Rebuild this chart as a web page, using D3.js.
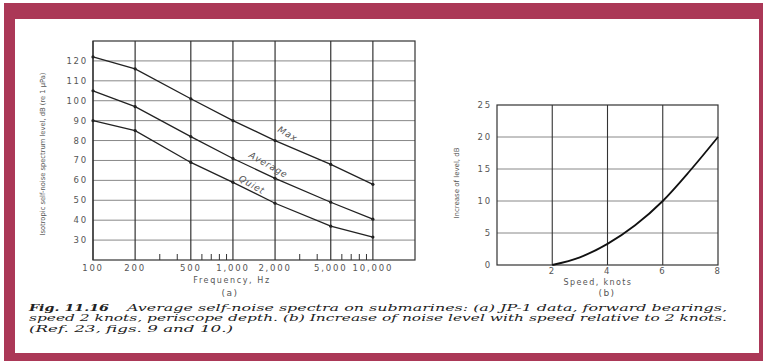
<!DOCTYPE html>
<html>
<head>
<meta charset="utf-8">
<script src="https://cdn.jsdelivr.net/npm/d3@7"></script>
<style>
  body { margin: 0; background: #fff; }
  svg text { font-family: "DejaVu Sans", sans-serif; fill: #555; }
</style>
</head>
<body>
<svg id="fig" width="763" height="361"></svg>
<script>
// panel (a): frequency spectra
const freqs = [100, 200, 500, 1000, 2000, 5000, 10000];
const freqLabels = ['100', '200', '500', '1,000', '2,000', '5,000', '10,000'];
const minorFreqs = [300, 400, 600, 700, 800, 900, 3000, 4000, 6000, 7000, 8000, 9000];
const maxLevel = [122, 116, 101, 90, 80, 68, 58];
const avgLevel = [105, 97, 82, 71, 61, 49, 40.5];
const quietLevel = [90, 85, 69, 59, 48.5, 37, 31.5];
const levelTicks = [30, 40, 50, 60, 70, 80, 90, 100, 110, 120];
const curveNames = ['Max', 'Average', 'Quiet'];
const curveNameFreq = [2400, 1750, 1330];
const curveNameLevel = [82, 66.5, 56.5];

// panel (b): increase with speed
const speeds = [2, 3, 4, 5, 6, 7, 8];
const increase = [0, 1.2, 3.3, 6.2, 10, 14.8, 20];
const speedTicks = [2, 4, 6, 8];
const incTicks = [0, 5, 10, 15, 20, 25];

const caption = [
  'Average self-noise spectra on submarines: (a) JP-1 data, forward bearings,',
  'speed 2 knots, periscope depth. (b) Increase of noise level with speed relative to 2 knots.',
  '(Ref. 23, figs. 9 and 10.)'
];

const svg = d3.select('#fig');

// maroon frame
svg.append('rect').attr('x', 4).attr('y', 3).attr('width', 759).attr('height', 358).attr('fill', '#ab3857');
svg.append('rect').attr('x', 15).attr('y', 19).attr('width', 744).attr('height', 334).attr('fill', '#fff');

const ink = '#333';
const gridCol = '#888';
const tickFont = g => g.attr('font-size', 8.5).attr('letter-spacing', 1.8);

// ---------- panel (a)
const x = d3.scaleLog().domain([100, 20000]).range([93, 415]);
const y = d3.scaleLinear().domain([20, 130]).range([260, 41]);
const ga = svg.append('g');

ga.selectAll('.hg').data(levelTicks).join('line')
  .attr('x1', x(100)).attr('x2', x(20000))
  .attr('y1', d => y(d)).attr('y2', d => y(d))
  .attr('stroke', gridCol).attr('stroke-width', 1);

ga.selectAll('.vg').data(freqs).join('line')
  .attr('x1', d => x(d)).attr('x2', d => x(d))
  .attr('y1', y(20)).attr('y2', y(130))
  .attr('stroke', ink).attr('stroke-width', 1.2);

ga.selectAll('.mt').data(minorFreqs).join('line')
  .attr('x1', d => x(d)).attr('x2', d => x(d))
  .attr('y1', y(20)).attr('y2', y(20) - 6)
  .attr('stroke', ink).attr('stroke-width', 1);

ga.append('rect')
  .attr('x', x(100)).attr('y', y(130))
  .attr('width', x(20000) - x(100)).attr('height', y(20) - y(130))
  .attr('fill', 'none').attr('stroke', ink).attr('stroke-width', 1.2);

const line = d3.line().x(d => x(d[0])).y(d => y(d[1]));
[maxLevel, avgLevel, quietLevel].forEach(vals => {
  const pts = freqs.map((f, i) => [f, vals[i]]);
  ga.append('path').datum(pts).attr('d', line)
    .attr('fill', 'none').attr('stroke', '#222').attr('stroke-width', 1.3);
  ga.selectAll(null).data(pts).join('circle')
    .attr('cx', d => x(d[0])).attr('cy', d => y(d[1])).attr('r', 1.6).attr('fill', '#222');
});

ga.selectAll('.xl').data(freqs).join('text')
  .attr('x', d => x(d)).attr('y', 271)
  .attr('text-anchor', 'middle').call(tickFont)
  .text((d, i) => freqLabels[i]);

ga.selectAll('.yl').data(levelTicks).join('text')
  .attr('x', 88).attr('y', d => y(d) + 3)
  .attr('text-anchor', 'end').call(tickFont)
  .text(d => d);

ga.append('text').attr('x', 232).attr('y', 283)
  .attr('text-anchor', 'middle').attr('font-size', 8).attr('letter-spacing', 1.6)
  .text('Frequency, Hz');
ga.append('text').attr('x', 230).attr('y', 296)
  .attr('text-anchor', 'middle').attr('font-size', 9).attr('letter-spacing', 1.5).text('(a)');
ga.append('text')
  .attr('transform', 'translate(45,154) rotate(-90)')
  .attr('text-anchor', 'middle').attr('font-size', 7)
  .attr('textLength', 163).attr('lengthAdjust', 'spacingAndGlyphs')
  .text('Isotropic self-noise spectrum level, dB (re 1 µPa)');

curveNames.forEach((t, i) => {
  ga.append('text')
    .attr('transform', `translate(${x(curveNameFreq[i])},${y(curveNameLevel[i])}) rotate(30)`)
    .attr('text-anchor', 'middle').attr('font-size', 9)
    .attr('font-style', 'italic').attr('letter-spacing', 0.8)
    .text(t);
});

// ---------- panel (b)
const xb = d3.scaleLinear().domain([0, 8]).range([497, 718]);
const yb = d3.scaleLinear().domain([0, 25]).range([265, 105]);
const gb = svg.append('g');

gb.selectAll('.hg').data(incTicks.slice(1, -1)).join('line')
  .attr('x1', xb(0)).attr('x2', xb(8))
  .attr('y1', d => yb(d)).attr('y2', d => yb(d))
  .attr('stroke', gridCol).attr('stroke-width', 1);

gb.selectAll('.vg').data(speedTicks.slice(0, -1)).join('line')
  .attr('x1', d => xb(d)).attr('x2', d => xb(d))
  .attr('y1', yb(0)).attr('y2', yb(25))
  .attr('stroke', ink).attr('stroke-width', 1.1);

gb.append('rect')
  .attr('x', xb(0)).attr('y', yb(25))
  .attr('width', xb(8) - xb(0)).attr('height', yb(0) - yb(25))
  .attr('fill', 'none').attr('stroke', ink).attr('stroke-width', 1.2);

const lineB = d3.line().x((d, i) => xb(speeds[i])).y(d => yb(d)).curve(d3.curveMonotoneX);
gb.append('path').datum(increase).attr('d', lineB)
  .attr('fill', 'none').attr('stroke', '#111').attr('stroke-width', 1.8);

gb.selectAll('.xl').data(speedTicks).join('text')
  .attr('x', d => xb(d)).attr('y', 274)
  .attr('text-anchor', 'middle').call(tickFont).text(d => d);

gb.selectAll('.yl').data(incTicks).join('text')
  .attr('x', 492).attr('y', d => yb(d) + 3)
  .attr('text-anchor', 'end').call(tickFont).text(d => d);

gb.append('text').attr('x', 598).attr('y', 285)
  .attr('text-anchor', 'middle').attr('font-size', 8).attr('letter-spacing', 1.4)
  .text('Speed, knots');
gb.append('text').attr('x', 607).attr('y', 296)
  .attr('text-anchor', 'middle').attr('font-size', 9).attr('letter-spacing', 1.5).text('(b)');
gb.append('text')
  .attr('transform', 'translate(459,183) rotate(-90)')
  .attr('text-anchor', 'middle').attr('font-size', 7)
  .attr('textLength', 71).attr('lengthAdjust', 'spacingAndGlyphs')
  .text('Increase of level, dB');

// ---------- caption
const capText = (xx, yy, len, s, bold) => svg.append('text')
  .attr('x', xx).attr('y', yy)
  .attr('font-style', 'italic').attr('font-size', 9)
  .attr('font-weight', bold ? 'bold' : 'normal')
  .attr('textLength', len).attr('lengthAdjust', 'spacingAndGlyphs')
  .style('font-family', '"DejaVu Serif", serif').style('fill', '#222')
  .text(s);

capText(29, 310.5, 80, 'Fig. 11.16', true);
capText(127, 310.5, 600, caption[0]);
capText(29, 321.3, 698, caption[1]);
capText(29, 332.1, 204, caption[2]);
</script>
</body>
</html>
